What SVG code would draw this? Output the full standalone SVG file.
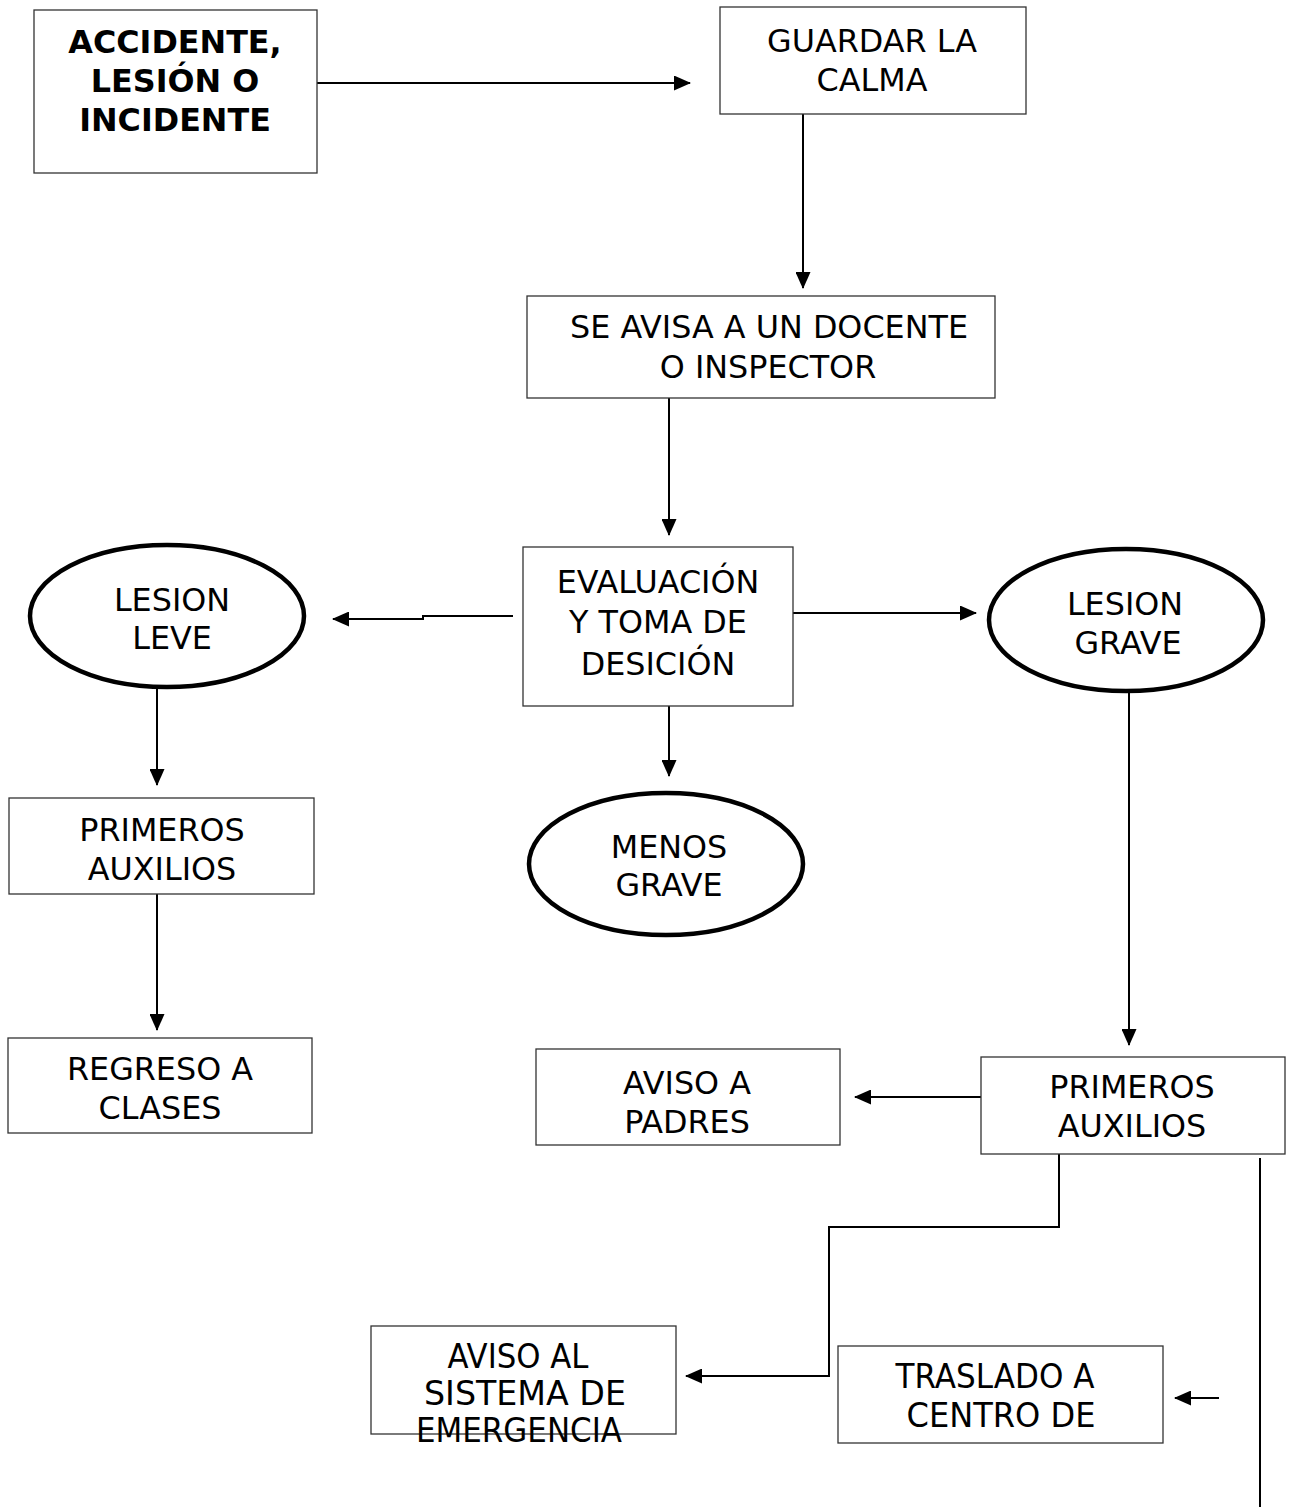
<svg xmlns="http://www.w3.org/2000/svg" width="1294" height="1510" viewBox="0 0 1294 1510">
<style>
.box{fill:#fff;stroke:#333;stroke-width:1.3}
.ell{fill:#fff;stroke:#000;stroke-width:4.5}
.t{font-family:"DejaVu Sans",Verdana,sans-serif;font-size:31.8px;fill:#000;text-anchor:middle}
.b{font-weight:bold}
.c{font-size:34px}
.ln{fill:none;stroke:#000;stroke-width:2}
</style>
<defs>
<marker id="ah" markerUnits="userSpaceOnUse" markerWidth="17" markerHeight="15" refX="16" refY="7.5" orient="auto">
<path d="M0,0 L17,7.5 L0,15 Z" fill="#000"/>
</marker>
</defs>
<g id="connectors">
<line class="ln" x1="317" y1="83" x2="690" y2="83" marker-end="url(#ah)"/>
<line class="ln" x1="803" y1="114" x2="803" y2="288" marker-end="url(#ah)"/>
<line class="ln" x1="669" y1="398" x2="669" y2="535" marker-end="url(#ah)"/>
<polyline class="ln" points="513,616 423,616 423,619 333,619" marker-end="url(#ah)"/>
<line class="ln" x1="793" y1="613" x2="976" y2="613" marker-end="url(#ah)"/>
<line class="ln" x1="669" y1="706" x2="669" y2="776" marker-end="url(#ah)"/>
<line class="ln" x1="157" y1="688" x2="157" y2="785" marker-end="url(#ah)"/>
<line class="ln" x1="157" y1="894" x2="157" y2="1030" marker-end="url(#ah)"/>
<line class="ln" x1="1129" y1="692" x2="1129" y2="1045" marker-end="url(#ah)"/>
<line class="ln" x1="981" y1="1097" x2="855" y2="1097" marker-end="url(#ah)"/>
<polyline class="ln" points="1059,1154 1059,1227 829,1227 829,1376 686,1376" marker-end="url(#ah)"/>
<line class="ln" x1="1219" y1="1398" x2="1175" y2="1398" marker-end="url(#ah)"/>
<line class="ln" x1="1260" y1="1158" x2="1260" y2="1507"/>
</g>
<g id="n-accidente">
<rect class="box" x="34" y="10" width="283" height="163"/>
<text class="t b" x="175" y="53">ACCIDENTE,</text>
<text class="t b" x="175" y="92">LESIÓN O</text>
<text class="t b" x="175" y="131">INCIDENTE</text>
</g>
<g id="n-calma">
<rect class="box" x="720" y="7" width="306" height="107"/>
<text class="t" x="872" y="52">GUARDAR LA</text>
<text class="t" x="872" y="91">CALMA</text>
</g>
<g id="n-avisa">
<rect class="box" x="527" y="296" width="468" height="102"/>
<text class="t" x="769" y="338">SE AVISA A UN DOCENTE</text>
<text class="t" x="768" y="378">O INSPECTOR</text>
</g>
<g id="n-evaluacion">
<rect class="box" x="523" y="547" width="270" height="159"/>
<text class="t" x="658" y="593">EVALUACIÓN</text>
<text class="t" x="658" y="633">Y TOMA DE</text>
<text class="t" x="658" y="675">DESICIÓN</text>
</g>
<g id="n-leve">
<ellipse class="ell" cx="167" cy="616" rx="137" ry="71"/>
<text class="t" x="172" y="611">LESION</text>
<text class="t" x="172" y="649">LEVE</text>
</g>
<g id="n-grave">
<ellipse class="ell" cx="1126" cy="620" rx="137" ry="71"/>
<text class="t" x="1125" y="615">LESION</text>
<text class="t" x="1128" y="654">GRAVE</text>
</g>
<g id="n-menos">
<ellipse class="ell" cx="666" cy="864" rx="137" ry="71"/>
<text class="t" x="669" y="858">MENOS</text>
<text class="t" x="669" y="896">GRAVE</text>
</g>
<g id="n-primeros1">
<rect class="box" x="9" y="798" width="305" height="96"/>
<text class="t" x="162" y="841">PRIMEROS</text>
<text class="t" x="162" y="880">AUXILIOS</text>
</g>
<g id="n-regreso">
<rect class="box" x="8" y="1038" width="304" height="95"/>
<text class="t" x="160" y="1080">REGRESO A</text>
<text class="t" x="160" y="1119">CLASES</text>
</g>
<g id="n-primeros2">
<rect class="box" x="981" y="1057" width="304" height="97"/>
<text class="t" x="1132" y="1098">PRIMEROS</text>
<text class="t" x="1132" y="1137">AUXILIOS</text>
</g>
<g id="n-padres">
<rect class="box" x="536" y="1049" width="304" height="96"/>
<text class="t" x="687" y="1094">AVISO A</text>
<text class="t" x="687" y="1133">PADRES</text>
</g>
<g id="n-sistema">
<rect class="box" x="371" y="1326" width="305" height="108"/>
<text class="t c" x="518" y="1368" textLength="141" lengthAdjust="spacingAndGlyphs">AVISO AL</text>
<text class="t c" x="525" y="1405" textLength="202" lengthAdjust="spacingAndGlyphs">SISTEMA DE</text>
<text class="t c" x="519" y="1442" textLength="206" lengthAdjust="spacingAndGlyphs">EMERGENCIA</text>
</g>
<g id="n-traslado">
<rect class="box" x="838" y="1346" width="325" height="97"/>
<text class="t c" x="995" y="1388" textLength="199" lengthAdjust="spacingAndGlyphs">TRASLADO A</text>
<text class="t c" x="1001" y="1427" textLength="189" lengthAdjust="spacingAndGlyphs">CENTRO DE</text>
</g>
</svg>
